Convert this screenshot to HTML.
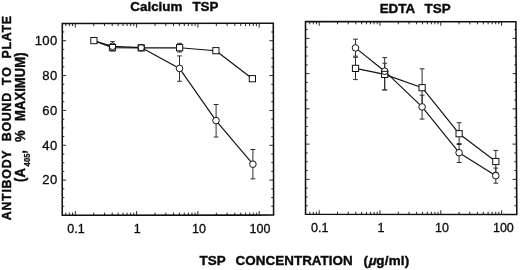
<!DOCTYPE html>
<html lang="en">
<head>
<meta charset="utf-8">
<title>TSP concentration chart</title>
<style>
html,body{margin:0;padding:0;background:#fff;}
body{width:520px;height:270px;overflow:hidden;}
svg{display:block;filter:blur(0.35px);}
text{font-family:"Liberation Sans", Arial, Helvetica, sans-serif;fill:#0a0a0a;stroke:#0a0a0a;stroke-width:0.3px;}
.b{font-weight:bold;stroke-width:0.38px;}
</style>
</head>
<body>
<svg width="520" height="270" viewBox="0 0 520 270">
<rect x="0" y="0" width="520" height="270" fill="#ffffff"/>
<g>
<path d="M62.30 23.55L273.30 23.30L273.60 215.10L62.25 215.30Z" fill="none" stroke="#111" stroke-width="1.55" stroke-linejoin="miter"/>
<path d="M65.80 215.20v-2.6M65.80 23.45v2.6M69.36 215.20v-2.6M69.36 23.45v2.6M72.50 215.20v-2.6M72.50 23.45v2.6M75.30 215.20v-4.1M75.30 23.45v4.1M93.75 215.20v-2.6M93.75 23.45v2.6M104.55 215.20v-2.6M104.55 23.45v2.6M112.21 215.20v-2.6M112.21 23.45v2.6M118.15 215.20v-2.6M118.15 23.45v2.6M123.00 215.20v-2.6M123.00 23.45v2.6M127.10 215.20v-2.6M127.10 23.45v2.6M130.66 215.20v-2.6M130.66 23.45v2.6M133.80 215.20v-2.6M133.80 23.45v2.6M136.60 215.20v-4.1M136.60 23.45v4.1M155.05 215.20v-2.6M155.05 23.45v2.6M165.85 215.20v-2.6M165.85 23.45v2.6M173.51 215.20v-2.6M173.51 23.45v2.6M179.45 215.20v-2.6M179.45 23.45v2.6M184.30 215.20v-2.6M184.30 23.45v2.6M188.40 215.20v-2.6M188.40 23.45v2.6M191.96 215.20v-2.6M191.96 23.45v2.6M195.10 215.20v-2.6M195.10 23.45v2.6M197.90 215.20v-4.1M197.90 23.45v4.1M216.35 215.20v-2.6M216.35 23.45v2.6M227.15 215.20v-2.6M227.15 23.45v2.6M234.81 215.20v-2.6M234.81 23.45v2.6M240.75 215.20v-2.6M240.75 23.45v2.6M245.60 215.20v-2.6M245.60 23.45v2.6M249.70 215.20v-2.6M249.70 23.45v2.6M253.26 215.20v-2.6M253.26 23.45v2.6M256.40 215.20v-2.6M256.40 23.45v2.6M259.20 215.20v-4.1M259.20 23.45v4.1M62.30 206.28h2.0M273.25 206.28h-2.0M62.30 197.57h2.0M273.25 197.57h-2.0M62.30 188.85h2.0M273.25 188.85h-2.0M62.30 180.14h3.8M273.25 180.14h-3.8M62.30 171.43h2.0M273.25 171.43h-2.0M62.30 162.71h2.0M273.25 162.71h-2.0M62.30 154.00h2.0M273.25 154.00h-2.0M62.30 145.28h3.8M273.25 145.28h-3.8M62.30 136.56h2.0M273.25 136.56h-2.0M62.30 127.85h2.0M273.25 127.85h-2.0M62.30 119.13h2.0M273.25 119.13h-2.0M62.30 110.42h3.8M273.25 110.42h-3.8M62.30 101.70h2.0M273.25 101.70h-2.0M62.30 92.99h2.0M273.25 92.99h-2.0M62.30 84.28h2.0M273.25 84.28h-2.0M62.30 75.56h3.8M273.25 75.56h-3.8M62.30 66.84h2.0M273.25 66.84h-2.0M62.30 58.13h2.0M273.25 58.13h-2.0M62.30 49.41h2.0M273.25 49.41h-2.0M62.30 40.70h3.8M273.25 40.70h-3.8M62.30 31.98h2.0M273.25 31.98h-2.0" fill="none" stroke="#111" stroke-width="0.9"/>
<path d="M112.5 41.6V51.0M110.1 41.6h4.8M110.1 51.0h4.8M179.6 43.3V52.0M177.2 43.3h4.8M177.2 52.0h4.8M179.5 55.9V81.3M177.1 55.9h4.8M177.1 81.3h4.8M216.1 104.5V137.0M213.7 104.5h4.8M213.7 137.0h4.8M252.9 149.5V178.9M250.5 149.5h4.8M250.5 178.9h4.8" fill="none" stroke="#2e2e2e" stroke-width="1"/>
<path d="M93.9 40.8L112.5 46.3L141.2 47.6L179.5 68.4L216.0 120.6L252.9 164.2" fill="none" stroke="#111" stroke-width="1.15" stroke-linejoin="round"/>
<path d="M93.9 40.6L112.5 47.6L141.2 47.9L179.6 47.7L215.9 50.7L252.4 78.7" fill="none" stroke="#111" stroke-width="1.15" stroke-linejoin="round"/>
<circle cx="112.50" cy="46.30" r="3.3" fill="#fff" stroke="none"/>
<circle cx="141.20" cy="47.60" r="3.3" fill="#fff" stroke="none"/>
<circle cx="179.50" cy="68.40" r="3.3" fill="#fff" stroke="none"/>
<circle cx="216.00" cy="120.60" r="3.3" fill="#fff" stroke="none"/>
<circle cx="252.90" cy="164.20" r="3.3" fill="#fff" stroke="none"/>
<rect x="90.80" y="37.50" width="6.2" height="6.2" fill="#fff" stroke="none"/>
<rect x="109.40" y="44.50" width="6.2" height="6.2" fill="#fff" stroke="none"/>
<rect x="138.10" y="44.80" width="6.2" height="6.2" fill="#fff" stroke="none"/>
<rect x="176.50" y="44.60" width="6.2" height="6.2" fill="#fff" stroke="none"/>
<rect x="212.80" y="47.60" width="6.2" height="6.2" fill="#fff" stroke="none"/>
<rect x="249.30" y="75.60" width="6.2" height="6.2" fill="#fff" stroke="none"/>
<circle cx="112.50" cy="46.30" r="3.3" fill="none" stroke="#111" stroke-width="1"/>
<circle cx="141.20" cy="47.60" r="3.3" fill="none" stroke="#111" stroke-width="1"/>
<circle cx="179.50" cy="68.40" r="3.3" fill="none" stroke="#111" stroke-width="1"/>
<circle cx="216.00" cy="120.60" r="3.3" fill="none" stroke="#111" stroke-width="1"/>
<circle cx="252.90" cy="164.20" r="3.3" fill="none" stroke="#111" stroke-width="1"/>
<rect x="90.80" y="37.50" width="6.2" height="6.2" fill="none" stroke="#111" stroke-width="1"/>
<rect x="109.40" y="44.50" width="6.2" height="6.2" fill="none" stroke="#111" stroke-width="1"/>
<rect x="138.10" y="44.80" width="6.2" height="6.2" fill="none" stroke="#111" stroke-width="1"/>
<rect x="176.50" y="44.60" width="6.2" height="6.2" fill="none" stroke="#111" stroke-width="1"/>
<rect x="212.80" y="47.60" width="6.2" height="6.2" fill="none" stroke="#111" stroke-width="1"/>
<rect x="249.30" y="75.60" width="6.2" height="6.2" fill="none" stroke="#111" stroke-width="1"/>
<text x="57.5" y="184.4" font-size="13.1" letter-spacing="0.3" text-anchor="end">20</text>
<text x="57.5" y="149.5" font-size="13.1" letter-spacing="0.3" text-anchor="end">40</text>
<text x="57.5" y="114.7" font-size="13.1" letter-spacing="0.3" text-anchor="end">60</text>
<text x="57.5" y="79.8" font-size="13.1" letter-spacing="0.3" text-anchor="end">80</text>
<text x="57.5" y="44.9" font-size="13.1" letter-spacing="0.3" text-anchor="end">100</text>
<text x="75.9" y="232.5" font-size="12.5" text-anchor="middle">0.1</text>
<text x="137.2" y="232.5" font-size="12.5" text-anchor="middle">1</text>
<text x="199.0" y="232.5" font-size="12.5" text-anchor="middle">10</text>
<text x="260.0" y="232.5" font-size="12.5" text-anchor="middle">100</text>
</g>
<g>
<path d="M305.50 21.60L515.90 21.80L516.80 214.50L305.55 214.30Z" fill="none" stroke="#111" stroke-width="1.55" stroke-linejoin="miter"/>
<path d="M309.78 214.40v-2.6M309.78 21.70v2.6M313.31 214.40v-2.6M313.31 21.70v2.6M316.42 214.40v-2.6M316.42 21.70v2.6M319.20 214.40v-4.1M319.20 21.70v4.1M337.50 214.40v-2.6M337.50 21.70v2.6M348.21 214.40v-2.6M348.21 21.70v2.6M355.81 214.40v-2.6M355.81 21.70v2.6M361.70 214.40v-2.6M361.70 21.70v2.6M366.51 214.40v-2.6M366.51 21.70v2.6M370.58 214.40v-2.6M370.58 21.70v2.6M374.11 214.40v-2.6M374.11 21.70v2.6M377.22 214.40v-2.6M377.22 21.70v2.6M380.00 214.40v-4.1M380.00 21.70v4.1M398.30 214.40v-2.6M398.30 21.70v2.6M409.01 214.40v-2.6M409.01 21.70v2.6M416.61 214.40v-2.6M416.61 21.70v2.6M422.50 214.40v-2.6M422.50 21.70v2.6M427.31 214.40v-2.6M427.31 21.70v2.6M431.38 214.40v-2.6M431.38 21.70v2.6M434.91 214.40v-2.6M434.91 21.70v2.6M438.02 214.40v-2.6M438.02 21.70v2.6M440.80 214.40v-4.1M440.80 21.70v4.1M459.10 214.40v-2.6M459.10 21.70v2.6M469.81 214.40v-2.6M469.81 21.70v2.6M477.41 214.40v-2.6M477.41 21.70v2.6M483.30 214.40v-2.6M483.30 21.70v2.6M488.11 214.40v-2.6M488.11 21.70v2.6M492.18 214.40v-2.6M492.18 21.70v2.6M495.71 214.40v-2.6M495.71 21.70v2.6M498.82 214.40v-2.6M498.82 21.70v2.6M501.60 214.40v-4.1M501.60 21.70v4.1M305.70 205.79h2.0M516.30 205.79h-2.0M305.70 196.98h2.0M516.30 196.98h-2.0M305.70 188.17h2.0M516.30 188.17h-2.0M305.70 179.36h3.8M516.30 179.36h-3.8M305.70 170.55h2.0M516.30 170.55h-2.0M305.70 161.74h2.0M516.30 161.74h-2.0M305.70 152.93h2.0M516.30 152.93h-2.0M305.70 144.12h3.8M516.30 144.12h-3.8M305.70 135.31h2.0M516.30 135.31h-2.0M305.70 126.50h2.0M516.30 126.50h-2.0M305.70 117.69h2.0M516.30 117.69h-2.0M305.70 108.88h3.8M516.30 108.88h-3.8M305.70 100.07h2.0M516.30 100.07h-2.0M305.70 91.26h2.0M516.30 91.26h-2.0M305.70 82.45h2.0M516.30 82.45h-2.0M305.70 73.64h3.8M516.30 73.64h-3.8M305.70 64.83h2.0M516.30 64.83h-2.0M305.70 56.02h2.0M516.30 56.02h-2.0M305.70 47.21h2.0M516.30 47.21h-2.0M305.70 38.40h3.8M516.30 38.40h-3.8M305.70 29.59h2.0M516.30 29.59h-2.0" fill="none" stroke="#111" stroke-width="0.9"/>
<path d="M355.5 39.2V56.2M353.1 39.2h4.8M353.1 56.2h4.8M355.5 57.3V79.6M353.1 57.3h4.8M353.1 79.6h4.8M384.7 57.6V89.9M382.3 57.6h4.8M382.3 89.9h4.8M384.7 63.2V89.9M382.3 63.2h4.8M382.3 89.9h4.8M422.1 68.8V106.0M419.7 68.8h4.8M419.7 106.0h4.8M422.1 95.2V119.1M419.7 95.2h4.8M419.7 119.1h4.8M459.1 122.7V144.5M456.7 122.7h4.8M456.7 144.5h4.8M459.1 143.6V162.5M456.7 143.6h4.8M456.7 162.5h4.8M495.8 150.4V172.5M493.4 150.4h4.8M493.4 172.5h4.8M495.8 168.1V183.2M493.4 168.1h4.8M493.4 183.2h4.8" fill="none" stroke="#2e2e2e" stroke-width="1"/>
<path d="M355.5 47.9L384.7 71.2L422.1 106.9L459.1 152.7L495.8 175.7" fill="none" stroke="#111" stroke-width="1.15" stroke-linejoin="round"/>
<path d="M355.5 68.4L384.7 74.4L422.1 87.7L459.1 133.7L495.8 161.5" fill="none" stroke="#111" stroke-width="1.15" stroke-linejoin="round"/>
<circle cx="355.50" cy="47.90" r="3.3" fill="#fff" stroke="none"/>
<circle cx="384.70" cy="71.20" r="3.3" fill="#fff" stroke="none"/>
<circle cx="422.10" cy="106.90" r="3.3" fill="#fff" stroke="none"/>
<circle cx="459.10" cy="152.70" r="3.3" fill="#fff" stroke="none"/>
<circle cx="495.80" cy="175.70" r="3.3" fill="#fff" stroke="none"/>
<rect x="352.40" y="65.30" width="6.2" height="6.2" fill="#fff" stroke="none"/>
<rect x="381.60" y="71.30" width="6.2" height="6.2" fill="#fff" stroke="none"/>
<rect x="419.00" y="84.60" width="6.2" height="6.2" fill="#fff" stroke="none"/>
<rect x="456.00" y="130.60" width="6.2" height="6.2" fill="#fff" stroke="none"/>
<rect x="492.70" y="158.40" width="6.2" height="6.2" fill="#fff" stroke="none"/>
<circle cx="355.50" cy="47.90" r="3.3" fill="none" stroke="#111" stroke-width="1"/>
<circle cx="384.70" cy="71.20" r="3.3" fill="none" stroke="#111" stroke-width="1"/>
<circle cx="422.10" cy="106.90" r="3.3" fill="none" stroke="#111" stroke-width="1"/>
<circle cx="459.10" cy="152.70" r="3.3" fill="none" stroke="#111" stroke-width="1"/>
<circle cx="495.80" cy="175.70" r="3.3" fill="none" stroke="#111" stroke-width="1"/>
<rect x="352.40" y="65.30" width="6.2" height="6.2" fill="none" stroke="#111" stroke-width="1"/>
<rect x="381.60" y="71.30" width="6.2" height="6.2" fill="none" stroke="#111" stroke-width="1"/>
<rect x="419.00" y="84.60" width="6.2" height="6.2" fill="none" stroke="#111" stroke-width="1"/>
<rect x="456.00" y="130.60" width="6.2" height="6.2" fill="none" stroke="#111" stroke-width="1"/>
<rect x="492.70" y="158.40" width="6.2" height="6.2" fill="none" stroke="#111" stroke-width="1"/>
<text x="319.8" y="232.0" font-size="12.5" text-anchor="middle">0.1</text>
<text x="380.9" y="232.0" font-size="12.5" text-anchor="middle">1</text>
<text x="442.0" y="232.0" font-size="12.5" text-anchor="middle">10</text>
<text x="503.4" y="232.0" font-size="12.5" text-anchor="middle">100</text>
</g>
<text class="b" x="130.3" y="11.0" font-size="13.4" letter-spacing="0">Calcium</text>
<text class="b" x="192.4" y="11.0" font-size="13.4" letter-spacing="0">TSP</text>
<text class="b" x="379.7" y="13.3" font-size="13.4" letter-spacing="0">EDTA</text>
<text class="b" x="424.6" y="13.3" font-size="13.4" letter-spacing="0">TSP</text>
<text class="b" x="199.6" y="265.3" font-size="13.4" letter-spacing="0">TSP</text>
<text class="b" x="235.6" y="265.3" font-size="13.4" letter-spacing="0.05">CONCENTRATION</text>
<text class="b" x="363.6" y="265.3" font-size="13.4" letter-spacing="0.25">(<tspan dx="7.97">g/ml)</tspan></text>
<text class="b" transform="translate(368.0 265.3) skewX(-14)" font-size="13.4">µ</text>
<text class="b" transform="translate(10.9 220.3) scale(1.08 1) rotate(-90)" font-size="12.4" letter-spacing="0.75">ANTIBODY</text>
<text class="b" transform="translate(10.9 141.3) scale(1.08 1) rotate(-90)" font-size="12.4" letter-spacing="0.75">BOUND</text>
<text class="b" transform="translate(10.9 85.3) scale(1.08 1) rotate(-90)" font-size="12.4" letter-spacing="1.2">TO</text>
<text class="b" transform="translate(10.9 58.6) scale(1.08 1) rotate(-90)" font-size="12.4" letter-spacing="0.75">PLATE</text>
<text class="b" transform="translate(24.7 182.0) scale(1.08 1) rotate(-90)" font-size="13.0" letter-spacing="0.1">(A<tspan font-size="7.6" dx="1.7" dy="5.3" stroke="#111" stroke-width="0.25">405</tspan><tspan dx="-0.3" dy="-5.3">,</tspan></text>
<text class="b" transform="translate(24.7 141.9) scale(1.08 1) rotate(-90)" font-size="13.2" letter-spacing="0.1">%</text>
<text class="b" transform="translate(24.7 121.0) scale(1.08 1) rotate(-90)" font-size="13.0" letter-spacing="0.1">MAXIMUM)</text>
</svg>
</body>
</html>
